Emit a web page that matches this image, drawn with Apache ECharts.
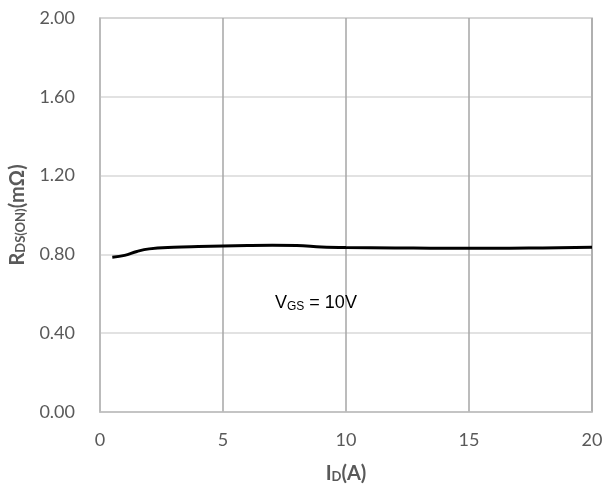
<!DOCTYPE html>
<html>
<head>
<meta charset="utf-8">
<script src="https://cdn.jsdelivr.net/npm/echarts@6/dist/echarts.min.js"></script>
<style>
  html, body { margin: 0; padding: 0; background: #fff; }
  #chart { width: 602px; height: 491px; }
</style>
</head>
<body>
<div id="chart"></div>
<script>
// drain current (A) and on-resistance (mOhm)
var currents = [0.5, 1, 1.5, 2, 3, 4, 5, 6, 7, 8, 9, 10, 12, 14, 16, 18, 20];
var rdsOn = [0.785, 0.795, 0.815, 0.828, 0.836, 0.84, 0.843, 0.845, 0.846, 0.845, 0.838, 0.835, 0.833, 0.831, 0.831, 0.833, 0.836];
var xTicks = [0, 5, 10, 15, 20];
var yTicks = [0, 0.4, 0.8, 1.2, 1.6, 2.0];

var points = currents.map(function (x, i) { return [x, rdsOn[i]]; });

var chart = echarts.init(document.getElementById('chart'));
var tickFont = 'Lato';
var noteFont = 'Liberation Sans';

chart.setOption({
  animation: false,
  grid: { left: 100, right: 10, top: 18, bottom: 79, outerBoundsMode: 'none', containLabel: false },
  xAxis: {
    type: 'value',
    min: xTicks[0], max: xTicks[xTicks.length - 1], interval: 5,
    axisLine: { show: true, lineStyle: { color: '#bfbfbf', width: 1.5 } },
    axisTick: { show: false },
    axisLabel: { color: '#595959', fontSize: 18, fontFamily: tickFont, margin: 19 },
    splitLine: { show: true, lineStyle: { color: '#a6a6a6', width: 1.5 } },
    name: '{b|I}{s|D}{b|(A)}',
    nameLocation: 'middle',
    nameGap: 52,
    nameTextStyle: {
      rich: {
        b: { fontSize: 20, fontWeight: 'bold', color: '#595959', fontFamily: tickFont },
        s: { fontSize: 13, fontWeight: 'bold', color: '#595959', fontFamily: tickFont, padding: [6, 0, 0, 0] }
      }
    }
  },
  yAxis: {
    type: 'value',
    min: 0, max: 2, interval: 0.4,
    axisLine: { show: true, lineStyle: { color: '#bfbfbf', width: 1.5 } },
    axisTick: { show: false },
    axisLabel: {
      color: '#595959', fontSize: 18, fontFamily: tickFont, margin: 25,
      formatter: function (v) { return v.toFixed(2); }
    },
    splitLine: { show: true, lineStyle: { color: '#d9d9d9', width: 1.5 } },
    name: '{b|R}{s|DS(ON)}{b|(mΩ)}',
    nameLocation: 'middle',
    nameGap: 72,
    nameRotate: 90,
    nameTextStyle: {
      rich: {
        b: { fontSize: 20, fontWeight: 'bold', color: '#595959', fontFamily: tickFont },
        s: { fontSize: 13, fontWeight: 'bold', color: '#595959', fontFamily: tickFont, padding: [6, 0, 0, 0] }
      }
    }
  },
  graphic: [
    {
      type: 'rect',
      shape: { x: 100, y: 18, width: 492, height: 394 },
      style: { fill: 'none', stroke: '#bfbfbf', lineWidth: 1.5 },
      silent: true, z: 0
    },
    {
      type: 'text',
      left: 275, top: 294,
      style: {
        text: '{v|V}{s|GS}{v| = 10V}',
        rich: {
          v: { fontSize: 18, color: '#000', fontFamily: noteFont },
          s: { fontSize: 12, color: '#000', fontFamily: noteFont, padding: [8, 0, 0, 0] }
        }
      },
      z: 10
    }
  ],
  series: [{
    type: 'line',
    data: points,
    smooth: 0.4,
    symbol: 'none',
    lineStyle: { color: '#000', width: 3 },
    z: 5
  }]
});
</script>
</body>
</html>
